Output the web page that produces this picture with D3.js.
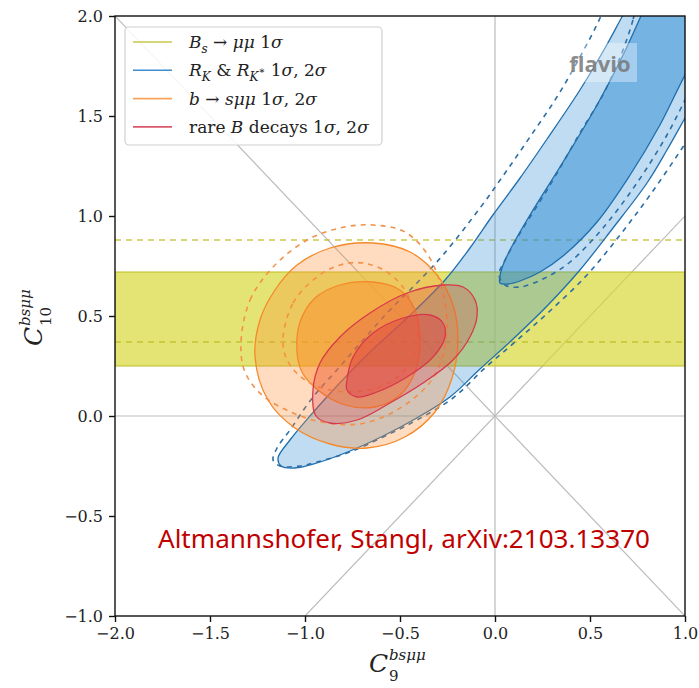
<!DOCTYPE html>
<html>
<head>
<meta charset="utf-8">
<script src="https://cdn.jsdelivr.net/npm/d3@7"></script>
<style>
  body { margin: 0; background: #fff; }
</style>
</head>
<body>
<script>
// axis ticks
const xTicks = [-2.0, -1.5, -1.0, -0.5, 0.0, 0.5, 1.0];
const yTicks = [-1.0, -0.5, 0.0, 0.5, 1.0, 1.5, 2.0];

// Bs -> mumu : 1 sigma band in C10 and the older (dashed) band edges
const bsBand = [0.25, 0.72];
const bsOld = [0.37, 0.88];

// contours, points are [C9, C10] (points past the frame get clipped)
const rk2s = [[0.95,2.6],[0.789,2.205],[0.668,1.995],[0.579,1.84],[0.447,1.63],[0.274,1.385],[0.132,1.19],
  [-0.011,1.005],[-0.132,0.84],[-0.263,0.68],[-0.463,0.49],[-0.658,0.32],[-0.832,0.15],[-0.974,0.0],
  [-1.079,-0.12],[-1.142,-0.21],[-1.126,-0.25],[-1.053,-0.26],[-0.937,-0.235],[-0.763,-0.175],[-0.589,-0.1],
  [-0.421,-0.015],[-0.237,0.095],[-0.079,0.235],[0.095,0.385],[0.274,0.55],[0.447,0.73],[0.621,0.94],
  [0.8,1.165],[0.905,1.33],[1.0,1.49],[1.105,1.67],[1.211,1.855],[1.5,2.6]];
const rk1s = [[0.026,0.665],[0.037,0.74],[0.079,0.83],[0.184,1.005],[0.358,1.27],[0.537,1.555],[0.674,1.805],
  [0.789,2.045],[0.895,2.28],[1.1,2.6],[1.5,2.6],[1.211,2.07],[1.105,1.88],[1.0,1.705],[0.868,1.455],
  [0.711,1.205],[0.537,0.97],[0.358,0.8],[0.237,0.72],[0.132,0.675],[0.068,0.66]];
const rk2sOld = [[0.7,2.6],[0.632,2.18],[0.553,1.99],[0.447,1.795],[0.326,1.595],[0.184,1.395],[0.053,1.215],
  [-0.079,1.04],[-0.274,0.805],[-0.411,0.665],[-0.553,0.53],[-0.695,0.38],[-0.832,0.23],[-0.958,0.095],
  [-1.079,-0.07],[-1.147,-0.16],[-1.168,-0.22],[-1.132,-0.25],[-1.026,-0.25],[-0.937,-0.23],[-0.763,-0.18],
  [-0.589,-0.105],[-0.411,-0.02],[-0.221,0.09],[-0.053,0.24],[0.105,0.37],[0.289,0.525],[0.484,0.705],
  [0.658,0.905],[0.816,1.105],[0.989,1.345],[1.132,1.555],[1.289,1.78],[1.6,2.6]];
const rk1sOld = [[0.8,2.4],[0.726,1.98],[0.589,1.645],[0.447,1.415],[0.274,1.13],[0.132,0.915],[0.053,0.78],
  [0.021,0.705],[0.053,0.655],[0.132,0.645],[0.263,0.69],[0.395,0.77],[0.568,0.94],[0.747,1.165],
  [0.905,1.405],[1.026,1.63],[1.132,1.83],[1.3,2.4]];

const bsmm2s = [[-1.263,0.295],[-1.237,0.48],[-1.158,0.63],[-1.042,0.755],[-0.868,0.84],[-0.642,0.865],
  [-0.447,0.82],[-0.305,0.705],[-0.221,0.555],[-0.195,0.38],[-0.226,0.19],[-0.316,0.02],[-0.474,-0.105],
  [-0.674,-0.16],[-0.868,-0.14],[-1.053,-0.06],[-1.195,0.08]];
const bsmm1s = [[-1.042,0.32],[-1.026,0.47],[-0.947,0.59],[-0.816,0.655],[-0.642,0.67],[-0.5,0.63],
  [-0.421,0.53],[-0.395,0.38],[-0.421,0.22],[-0.5,0.105],[-0.632,0.045],[-0.789,0.055],[-0.932,0.13],[-1.016,0.22]];
const bsmm2sOld = [[-1.337,0.365],[-1.289,0.58],[-1.168,0.745],[-0.989,0.88],[-0.816,0.94],[-0.642,0.955],
  [-0.474,0.92],[-0.353,0.805],[-0.279,0.63],[-0.253,0.43],[-0.316,0.205],[-0.474,0.055],[-0.684,-0.035],
  [-0.884,-0.035],[-1.063,0.015],[-1.226,0.105],[-1.316,0.22]];
const bsmm1sOld = [[-1.116,0.365],[-1.063,0.565],[-0.937,0.695],[-0.816,0.755],[-0.695,0.765],[-0.568,0.72],
  [-0.474,0.63],[-0.416,0.49],[-0.411,0.355],[-0.474,0.23],[-0.605,0.145],[-0.789,0.12],[-0.974,0.165],[-1.079,0.255]];

const rare2s = [[-0.958,0.13],[-0.921,0.265],[-0.816,0.395],[-0.658,0.515],[-0.463,0.615],[-0.274,0.655],
  [-0.168,0.645],[-0.105,0.58],[-0.095,0.495],[-0.132,0.395],[-0.221,0.28],[-0.379,0.165],[-0.553,0.065],
  [-0.726,-0.02],[-0.868,-0.035],[-0.942,0]];
const rare1s = [[-0.779,0.18],[-0.747,0.295],[-0.642,0.415],[-0.484,0.49],[-0.342,0.505],[-0.274,0.465],
  [-0.263,0.395],[-0.326,0.295],[-0.463,0.195],[-0.621,0.12],[-0.726,0.095],[-0.779,0.13]];

// reference lines through the origin (slopes), plus the axes themselves
const refSlopes = [1, -1];

const W = 699, H = 688;
const x = d3.scaleLinear().domain([-2, 1]).range([115, 685]);
const y = d3.scaleLinear().domain([-1, 2]).range([616, 16]);

const svg = d3.select("body").append("svg")
    .attr("width", W).attr("height", H)
    .style("font-family", "DejaVu Serif");

svg.append("defs").append("clipPath").attr("id", "plot")
  .append("rect")
    .attr("x", x(-2)).attr("y", y(2))
    .attr("width", x(1) - x(-2)).attr("height", y(-1) - y(2));

const g = svg.append("g").attr("clip-path", "url(#plot)");

// grey guide lines
g.append("line").attr("x1", x(-2)).attr("x2", x(1)).attr("y1", y(0)).attr("y2", y(0))
  .attr("stroke", "#bbb").attr("stroke-width", 1.2);
g.append("line").attr("x1", x(0)).attr("x2", x(0)).attr("y1", y(-1)).attr("y2", y(2))
  .attr("stroke", "#bbb").attr("stroke-width", 1.2);
refSlopes.forEach(s => {
  g.append("line")
    .attr("x1", x(-3)).attr("y1", y(-3 * s))
    .attr("x2", x(3)).attr("y2", y(3 * s))
    .attr("stroke", "#bbb").attr("stroke-width", 1.2);
});

// Bs -> mumu band
g.append("rect")
  .attr("x", x(-2)).attr("width", x(1) - x(-2))
  .attr("y", y(bsBand[1])).attr("height", y(bsBand[0]) - y(bsBand[1]))
  .attr("fill", "#d8d83a").attr("fill-opacity", 0.7)
  .attr("stroke", "#bcbd22").attr("stroke-width", 1);
bsOld.forEach(v => {
  g.append("line").attr("x1", x(-2)).attr("x2", x(1)).attr("y1", y(v)).attr("y2", y(v))
    .attr("stroke", "#bcbd22").attr("stroke-width", 1.6).attr("stroke-dasharray", "6,5")
    .attr("stroke-opacity", 0.8);
});

const contour = d3.line()
  .x(d => x(d[0])).y(d => y(d[1]))
  .curve(d3.curveCatmullRomClosed.alpha(0.5));

function region(pts, fill, op, stroke) {
  g.append("path").attr("d", contour(pts))
    .attr("fill", fill).attr("fill-opacity", op)
    .attr("stroke", stroke).attr("stroke-width", 1.3);
}
function dashed(pts, stroke) {
  g.append("path").attr("d", contour(pts))
    .attr("fill", "none").attr("stroke", stroke)
    .attr("stroke-width", 1.6).attr("stroke-dasharray", "5,5");
}

// R_K & R_K*
region(rk2s, "#2b8ad4", 0.3, "#1f6fae");
region(rk1s, "#2b8ad4", 0.5, "#1f6fae");
dashed(rk2sOld, "#2c6ea6");
dashed(rk1sOld, "#2c6ea6");

// b -> s mu mu
region(bsmm2s, "#ff8c2a", 0.3, "#f5892a");
region(bsmm1s, "#ff8c2a", 0.45, "#f5892a");
dashed(bsmm2sOld, "#f39149");
dashed(bsmm1sOld, "#f39149");

// rare B decays
region(rare2s, "#dc3545", 0.25, "#d8394a");
region(rare1s, "#dc3545", 0.4, "#d8394a");

// flavio watermark
g.append("rect").attr("x", 570).attr("y", 43).attr("width", 67).attr("height", 39)
  .attr("fill", "#fff").attr("fill-opacity", 0.35);
g.append("text").attr("x", 600).attr("y", 72).attr("text-anchor", "middle")
  .attr("font-family", "Open Sans").attr("font-weight", "bold").attr("font-size", 22)
  .attr("fill", "#777").attr("fill-opacity", 0.85).text("flavio");

// frame
svg.append("rect")
  .attr("x", x(-2)).attr("y", y(2))
  .attr("width", x(1) - x(-2)).attr("height", y(-1) - y(2))
  .attr("fill", "none").attr("stroke", "#111").attr("stroke-width", 1.4);

// axes
const fmt = d3.format(".1f");
const xAxis = svg.append("g").attr("transform", `translate(0,${y(-1)})`)
  .call(d3.axisBottom(x).tickValues(xTicks).tickFormat(fmt).tickSize(6).tickPadding(6));
const yAxis = svg.append("g").attr("transform", `translate(${x(-2)},0)`)
  .call(d3.axisLeft(y).tickValues(yTicks).tickFormat(fmt).tickSize(6).tickPadding(6));
[xAxis, yAxis].forEach(a => {
  a.select(".domain").remove();
  a.selectAll(".tick line").attr("stroke", "#111").attr("stroke-width", 1.4);
  a.selectAll(".tick text").attr("font-family", "DejaVu Serif").attr("font-size", 16).attr("fill", "#222");
});

// axis labels C_9^{bsμμ}, C_10^{bsμμ}
function wilson(sel, sub) {
  sel.append("text").attr("x", 0).attr("y", 0).attr("font-size", 25)
    .attr("font-style", "italic").attr("fill", "#222").text("C");
  sel.append("text").attr("x", 20).attr("y", -12).attr("font-size", 15)
    .attr("font-style", "italic").attr("fill", "#222").text("bsμμ");
  sel.append("text").attr("x", 20).attr("y", 9).attr("font-size", 15)
    .attr("fill", "#222").text(sub);
}
wilson(svg.append("g").attr("transform", "translate(369,672)"), "9");
wilson(svg.append("g").attr("transform", "translate(42,346) rotate(-90)"), "10");

// legend
const legendItems = [
  { color: "#c8c84a", parts: [["B","i"],["s","subi"],[" → ","n"],["μμ","i"],[" 1","n"],["σ","i"]] },
  { color: "#3f8ccb", parts: [["R","i"],["K","subi"],[" & ","n"],["R","i"],["K","subi"],["∗","supsub"],[" 1","n"],["σ","i"],[", 2","n"],["σ","i"]] },
  { color: "#f9a25b", parts: [["b","i"],[" → ","n"],["sμμ","i"],[" 1","n"],["σ","i"],[", 2","n"],["σ","i"]] },
  { color: "#d9596a", parts: [["rare ","n"],["B","i"],[" decays 1","n"],["σ","i"],[", 2","n"],["σ","i"]] }
];
const lg = svg.append("g");
lg.append("rect").attr("x", 125).attr("y", 27).attr("width", 257).attr("height", 118)
  .attr("rx", 4).attr("fill", "#fff").attr("fill-opacity", 0.85)
  .attr("stroke", "#d0d0d0").attr("stroke-width", 1.2);
legendItems.forEach((it, i) => {
  const cy = 42 + i * 28.3;
  lg.append("line").attr("x1", 133).attr("x2", 172).attr("y1", cy).attr("y2", cy)
    .attr("stroke", it.color).attr("stroke-width", 1.6);
  const t = lg.append("text").attr("x", 189).attr("y", cy + 6)
    .attr("font-size", 17).attr("fill", "#222");
  let shift = 0;
  it.parts.forEach(([s, k]) => {
    const target = k === "subi" ? 5 : 0;
    const ts = t.append("tspan").text(s);
    if (k === "i" || k === "subi") ts.attr("font-style", "italic");
    if (k === "subi") ts.attr("font-size", 12);
    if (k === "supsub") ts.attr("font-size", 10);
    if (k === "supsub") { ts.attr("dy", -2 - shift); shift = -2; }
    else if (target !== shift) { ts.attr("dy", target - shift); shift = target; }
  });
});

// citation
svg.append("text").attr("x", 158).attr("y", 548)
  .attr("font-family", "Noto Sans").attr("font-size", 26).attr("fill", "#c00000")
  .attr("textLength", 492).attr("lengthAdjust", "spacingAndGlyphs")
  .text("Altmannshofer, Stangl, arXiv:2103.13370");
</script>
</body>
</html>
